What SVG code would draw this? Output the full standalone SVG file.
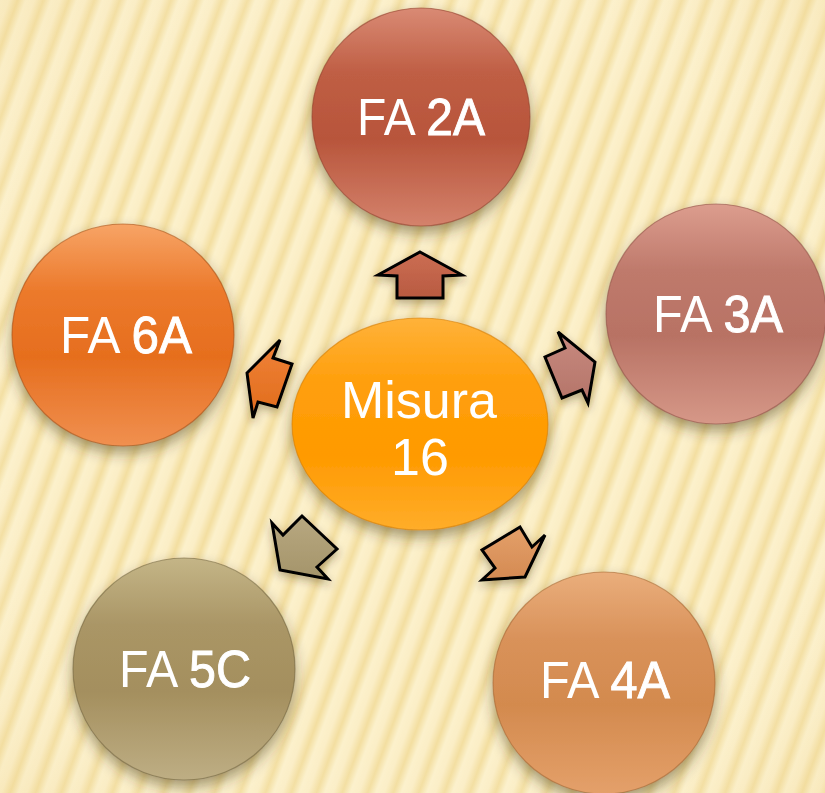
<svg xmlns="http://www.w3.org/2000/svg" width="825" height="793" viewBox="0 0 825 793">
<defs>
<linearGradient id="stripeG" x1="0" y1="0" x2="1" y2="0">
<stop offset="0" stop-color="#fcf1cc"/>
<stop offset="0.35" stop-color="#fbeec6"/>
<stop offset="0.7" stop-color="#f3dea0"/>
<stop offset="1" stop-color="#fbf0ca"/>
</linearGradient>
<pattern id="stripes" patternUnits="userSpaceOnUse" width="24" height="40" patternTransform="rotate(20)">
<rect width="24" height="40" fill="url(#stripeG)"/>
</pattern>
<radialGradient id="vign" cx="0.5" cy="0.5" r="0.75">
<stop offset="0.6" stop-color="#ffffff" stop-opacity="0"/>
<stop offset="1" stop-color="#e8c878" stop-opacity="0.2"/>
</radialGradient>
<filter id="sh" x="-30%" y="-30%" width="160%" height="170%">
<feDropShadow dx="0" dy="7" stdDeviation="7" flood-color="#3a2a00" flood-opacity="0.45"/>
</filter>
<filter id="ash" x="-40%" y="-40%" width="180%" height="180%">
<feDropShadow dx="0" dy="4" stdDeviation="4" flood-color="#3a2a00" flood-opacity="0.35"/>
</filter>
<linearGradient id="g2A" x1="0" y1="0" x2="0" y2="1">
<stop offset="0" stop-color="#d98a74"/><stop offset="0.3" stop-color="#bf5e44"/><stop offset="0.6" stop-color="#b8553b"/><stop offset="1" stop-color="#d4826c"/>
</linearGradient>
<linearGradient id="g3A" x1="0" y1="0" x2="0" y2="1">
<stop offset="0" stop-color="#dc9d8e"/><stop offset="0.3" stop-color="#bf7a6c"/><stop offset="0.6" stop-color="#b87264"/><stop offset="1" stop-color="#d69888"/>
</linearGradient>
<linearGradient id="g6A" x1="0" y1="0" x2="0" y2="1">
<stop offset="0" stop-color="#f7a466"/><stop offset="0.3" stop-color="#ec7a2c"/><stop offset="0.6" stop-color="#e66e1e"/><stop offset="1" stop-color="#f09050"/>
</linearGradient>
<linearGradient id="g5C" x1="0" y1="0" x2="0" y2="1">
<stop offset="0" stop-color="#c4b587"/><stop offset="0.3" stop-color="#aa9666"/><stop offset="0.6" stop-color="#a48f5e"/><stop offset="1" stop-color="#beae84"/>
</linearGradient>
<linearGradient id="g4A" x1="0" y1="0" x2="0" y2="1">
<stop offset="0" stop-color="#eaae7c"/><stop offset="0.3" stop-color="#d9925a"/><stop offset="0.6" stop-color="#d38a4e"/><stop offset="1" stop-color="#e4a06a"/>
</linearGradient>
<linearGradient id="gC" x1="0" y1="0" x2="0" y2="1">
<stop offset="0" stop-color="#ffb23a"/><stop offset="0.3" stop-color="#ff9f0c"/><stop offset="0.65" stop-color="#ff9a00"/><stop offset="1" stop-color="#ffad2a"/>
</linearGradient>
<linearGradient id="ga2A" x1="0" y1="0" x2="0" y2="1"><stop offset="0" stop-color="#cc6e54"/><stop offset="1" stop-color="#b85a40"/></linearGradient>
<linearGradient id="ga3A" x1="0" y1="0" x2="0" y2="1"><stop offset="0" stop-color="#c88a80"/><stop offset="1" stop-color="#b47468"/></linearGradient>
<linearGradient id="ga6A" x1="0" y1="0" x2="0" y2="1"><stop offset="0" stop-color="#f08238"/><stop offset="1" stop-color="#e06c1c"/></linearGradient>
<linearGradient id="ga5C" x1="0" y1="0" x2="0" y2="1"><stop offset="0" stop-color="#b8a880"/><stop offset="1" stop-color="#a4946a"/></linearGradient>
<linearGradient id="ga4A" x1="0" y1="0" x2="0" y2="1"><stop offset="0" stop-color="#e4a06a"/><stop offset="1" stop-color="#d48a52"/></linearGradient>
</defs>
<style>
.node{filter:url(#sh);}
.edge{stroke-opacity:0.55;stroke-width:1.2;}
.lbl{font-family:"Liberation Sans",Arial,sans-serif;fill:#ffffff;font-size:52px;text-anchor:middle;}
.b{stroke:#ffffff;stroke-width:0.9px;}
.arr{stroke:#000000;stroke-width:3;stroke-linejoin:miter;filter:url(#ash);}
</style>
<rect width="825" height="793" fill="url(#stripes)"/>
<rect width="825" height="793" fill="url(#vign)"/>

<g id="connectors">
<polygon class="arr" fill="url(#ga2A)" points="420,252 462,275 443,276 443,298 397,298 397,276 378,275"/>
<polygon class="arr" fill="url(#ga3A)" points="595,362 588,403 582,390 562,398 545,357 565,348 558,332"/>
<polygon class="arr" fill="url(#ga6A)" points="247,373 280,340 273,358 292,364 277,407 258,402 253,418"/>
<polygon class="arr" fill="url(#ga5C)" points="280,570 272,523 283,535 302,516 337,549 317,567 328,579"/>
<polygon class="arr" fill="url(#ga4A)" points="525,577 482,580 495,568 482,550 520,527 532,547 545,535"/>
</g>

<g id="node-2A" class="node">
<circle cx="421" cy="117" r="109" fill="url(#g2A)" stroke="#8a3a26" class="edge"/>
<text class="lbl" x="421" y="135" textLength="128" lengthAdjust="spacingAndGlyphs">FA <tspan class="b">2A</tspan></text>
</g>
<g id="node-3A" class="node">
<circle cx="716" cy="314" r="110" fill="url(#g3A)" stroke="#8a4a40" class="edge"/>
<text class="lbl" x="718" y="332" textLength="130" lengthAdjust="spacingAndGlyphs">FA <tspan class="b">3A</tspan></text>
</g>
<g id="node-6A" class="node">
<circle cx="123" cy="335" r="111" fill="url(#g6A)" stroke="#a04810" class="edge"/>
<text class="lbl" x="126" y="353" textLength="132" lengthAdjust="spacingAndGlyphs">FA <tspan class="b">6A</tspan></text>
</g>
<g id="node-5C" class="node">
<circle cx="184" cy="669" r="111" fill="url(#g5C)" stroke="#6e5e38" class="edge"/>
<text class="lbl" x="185" y="687" textLength="132" lengthAdjust="spacingAndGlyphs">FA <tspan class="b">5C</tspan></text>
</g>
<g id="node-4A" class="node">
<circle cx="604" cy="683" r="111" fill="url(#g4A)" stroke="#a0602c" class="edge"/>
<text class="lbl" x="605" y="698" textLength="130" lengthAdjust="spacingAndGlyphs">FA <tspan class="b">4A</tspan></text>
</g>
<g id="node-center" class="node">
<ellipse cx="420" cy="424" rx="128" ry="106" fill="url(#gC)" stroke="#d07800" class="edge"/>
<text class="lbl" x="419" y="418" font-size="53">Misura</text>
<text class="lbl" x="420" y="475" font-size="53">16</text>
</g>
</svg>
